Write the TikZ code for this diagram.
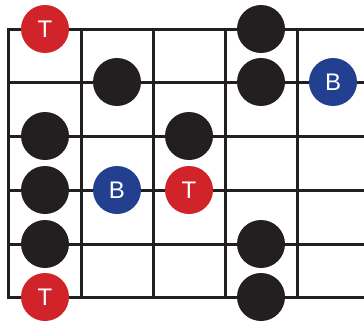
\documentclass[tikz,border=0pt]{standalone}
\usepackage{fontspec}
\setmainfont{Liberation Sans}
\definecolor{ink}{HTML}{231F20}
\definecolor{tred}{HTML}{D1232A}
\definecolor{bblue}{HTML}{233F8F}
\tikzset{
  grid line/.style={draw=ink, line width=3pt},
  dot/.style={circle, fill=ink, minimum size=48pt, inner sep=0pt},
  tdot/.style={dot, fill=tred, text=white, font=\fontsize{24}{24}\selectfont},
  bdot/.style={dot, fill=bblue, text=white, font=\fontsize{24}{24}\selectfont},
}
\begin{document}
\begin{tikzpicture}[x=1pt,y=-1pt]
\useasboundingbox (0,0) rectangle (364,324);
% strings
\foreach \yy/\n in {29/s1,82/s2,136/s3,190/s4,244/s5,297/s6}{
  \coordinate (\n l) at (8,\yy);
  \coordinate (\n r) at (364,\yy);
  \draw[grid line] (\n l) -- (\n r);
}
% frets
\foreach \xx/\n in {8/f0,81/f1,153/f2,225/f3,297/f4}{
  \coordinate (\n t) at (\xx,29);
  \coordinate (\n b) at (\xx,297);
  \draw[grid line, line cap=rect] (\n t) -- (\n b);
}
% dots
\node[tdot] (t1) at (45,29) {T};
\node[dot] (d1) at (117,82) {};
\node[dot] (d2) at (45,136) {};
\node[dot] (d3) at (189,136) {};
\node[dot] (d4) at (45,190) {};
\node[bdot] (b1) at (117,190) {B};
\node[tdot] (t2) at (189,190) {T};
\node[dot] (d5) at (45,244) {};
\node[dot] (d6) at (261,244) {};
\node[tdot] (t3) at (45,297) {T};
\node[dot] (d7) at (261,297) {};
\node[dot] (d8) at (261,29) {};
\node[dot] (d9) at (261,82) {};
\node[bdot] (b2) at (333,82) {B};
\end{tikzpicture}
\end{document}
